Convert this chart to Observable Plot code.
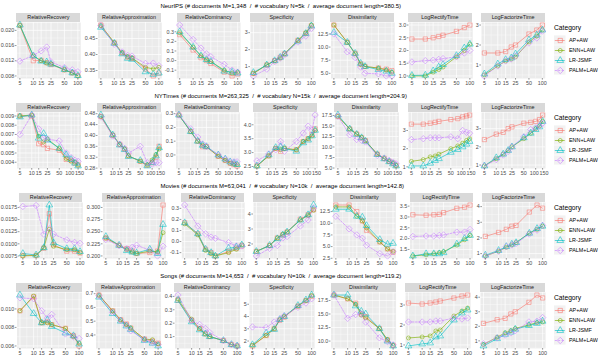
<!DOCTYPE html>
<html><head><meta charset="utf-8">
<script src="https://cdn.jsdelivr.net/npm/d3@7"></script>
<script src="https://cdn.jsdelivr.net/npm/@observablehq/plot@0.6"></script>
<style>
body{margin:0;background:#fff;}
#root{position:relative;width:598px;height:360px;overflow:hidden;background:#fff;font-family:"Liberation Sans",Arial,sans-serif;}
.strip{position:absolute;background:#D9D9D9;color:#1A1A1A;font-size:5.4px;text-align:center;white-space:nowrap;overflow:hidden;}
.title{position:absolute;font-size:6px;color:#000;white-space:pre;transform:translateX(-50%);line-height:8px;}
.ltitle{position:absolute;font-size:6.7px;color:#000;white-space:pre;line-height:8px;}
</style></head><body><div id="root"></div>
<script>
// ---------- data ----------
const categories = ["AP+AW","ENN+LAW","LR-JSMF","PALM+LAW"];
const metrics = ["RelativeRecovery","RelativeApproximation","RelativeDominancy","Specificity","Dissimilarity","LogRectifyTime","LogFactorizeTime"];
const titles = [
  "NeurIPS (# documents M=1,348  /  # vocabulary N=5k  /  average document length=380.5)",
  "NYTimes (# documents M=263,325  /  # vocabulary N=15k  /  average document length=204.9)",
  "Movies (# documents M=63,041  /  # vocabulary N=10k  /  average document length=142.8)",
  "Songs (# documents M=14,653  /  # vocabulary N=10k  /  average document length=119.2)"
];
const ranksStd = [5,10,15,20,25,50,75,100];
const ranksNYT = [5,10,15,20,25,50,75,100,125,150];
const xTicksStd = [5,10,15,25,50,100];
const xTicksNYT = [5,10,15,25,50,100,150];

// NeurIPS (rows: AP+AW, ENN+LAW, LR-JSMF, PALM+LAW)
const neuripsRecovery = [
  [0.0213,0.0120,0.0121,0.0115,0.0110,0.0096,0.0088,0.0081],
  [0.0213,0.0133,0.0120,0.0114,0.0112,0.0096,0.0088,0.0080],
  [0.0214,0.0133,0.0119,0.0117,0.0111,0.0097,0.0088,0.0081],
  [0.0119,0.0134,0.0146,0.0156,0.0117,0.0102,0.0096,0.0091]];
const neuripsApprox = [
  [0.492,0.436,0.405,0.392,0.388,0.355,0.333,0.342],
  [0.490,0.437,0.405,0.393,0.389,0.360,0.355,0.360],
  [0.485,0.435,0.402,0.388,0.385,0.346,0.338,0.342],
  [0.490,0.432,0.408,0.397,0.395,0.372,0.373,0.365]];
const neuripsDominancy = [
  [0.27,0.11,0.03,0.00,-0.03,-0.12,-0.16,-0.14],
  [0.29,0.14,0.05,0.01,-0.01,-0.10,-0.13,-0.12],
  [0.30,0.14,0.05,0.01,-0.01,-0.11,-0.12,-0.13],
  [0.37,0.22,0.13,0.07,0.04,-0.04,-0.10,-0.12]];
const neuripsSpecificity = [
  [0.60,1.10,1.35,1.55,1.75,2.55,2.95,3.40],
  [0.60,1.10,1.35,1.50,1.75,2.55,3.00,3.45],
  [0.65,1.10,1.35,1.55,1.75,2.50,2.95,3.40],
  [0.45,0.85,1.30,1.50,1.70,2.45,2.80,3.25]];
const neuripsDissimilarity = [
  [14.2,10.9,8.8,6.8,6.3,6.0,5.8,5.5],
  [14.2,10.9,8.7,6.7,6.3,6.0,5.6,5.2],
  [12.8,10.9,8.8,6.9,6.3,5.7,5.4,5.0],
  [12.5,9.1,8.0,6.2,5.0,4.9,4.5,4.5]];
const neuripsRectify = [
  [2.45,2.45,2.50,2.55,2.60,2.75,2.90,3.00],
  [1.00,1.00,1.15,1.25,1.35,1.75,2.00,2.25],
  [1.02,1.03,1.20,1.35,1.45,1.80,2.10,2.25],
  [1.55,1.60,1.62,1.65,1.68,1.75,1.90,2.00]];
const neuripsFactorize = [
  [1.60,1.60,1.67,1.90,2.00,2.55,2.75,3.00],
  [0.50,0.95,1.20,1.30,1.40,2.15,2.45,2.75],
  [0.55,1.05,1.27,1.35,1.55,2.25,2.50,2.75],
  [0.45,0.95,1.20,1.30,1.45,2.10,2.35,2.70]];
const neuripsYTicks = [[0.008,0.012,0.016,0.020],[0.35,0.40,0.45,0.50],[-0.1,0,0.1,0.2,0.3],[1,2,3],[5,7.5,10,12.5],[1,1.5,2,2.5,3],[1,2,3]];

// NYTimes
const nytRecovery = [
  [0.0090,0.0090,0.0060,0.0059,0.0055,0.0053,0.0043,0.0042,0.0039,0.0037],
  [0.0090,0.0091,0.0068,0.0062,0.0065,0.0055,0.0044,0.0041,0.0040,0.0037],
  [0.0089,0.0091,0.0066,0.0071,0.0064,0.0055,0.0048,0.0043,0.0039,0.0036],
  [0.0070,0.0091,0.0076,0.0066,0.0065,0.0063,0.0050,0.0045,0.0042,0.0041]];
const nytApprox = [
  [0.470,0.400,0.367,0.350,0.325,0.305,0.290,0.300,0.320,0.360],
  [0.470,0.402,0.367,0.350,0.325,0.305,0.292,0.310,0.330,0.350],
  [0.475,0.402,0.365,0.348,0.323,0.308,0.288,0.300,0.325,0.355],
  [0.468,0.398,0.368,0.352,0.335,0.360,0.300,0.295,0.300,0.300]];
const nytDominancy = [
  [0.29,0.17,0.10,0.06,0.06,-0.01,-0.04,-0.06,-0.07,-0.08],
  [0.29,0.17,0.10,0.07,0.06,-0.01,-0.04,-0.06,-0.065,-0.07],
  [0.29,0.17,0.10,0.07,0.06,0.00,-0.03,-0.05,-0.06,-0.07],
  [0.29,0.19,0.13,0.08,0.06,0.00,-0.03,-0.05,-0.05,-0.05]];
const nytSpecificity = [
  [2.52,2.88,3.15,3.05,3.15,3.10,3.40,3.50,3.65,3.85],
  [2.52,2.88,3.15,3.10,3.15,3.10,3.40,3.50,3.60,3.80],
  [2.52,2.92,3.18,3.20,3.15,3.05,3.35,3.45,3.60,3.80],
  [2.70,2.95,3.10,3.40,3.05,3.40,3.70,3.95,3.80,4.35]];
const nytDissimilarity = [
  [17.3,14.3,13.1,12.2,11.5,8.3,7.3,6.6,6.2,5.6],
  [17.3,14.3,13.1,12.3,11.5,8.3,7.2,6.5,6.1,5.6],
  [17.6,14.3,13.0,12.2,11.4,8.2,7.2,6.5,6.0,5.5],
  [17.3,12.9,11.8,11.6,11.2,8.0,7.3,6.8,6.3,6.0]];
const nytRectify = [
  [3.35,3.35,3.40,3.45,3.50,3.60,3.65,3.75,3.80,3.85],
  [1.30,1.40,1.55,1.60,1.70,2.00,2.15,2.30,2.45,2.55],
  [1.05,1.05,1.20,1.35,1.45,1.80,1.95,2.10,2.25,2.40],
  [2.50,2.55,2.60,2.60,2.60,2.65,2.55,3.00,2.90,2.85]];
const nytFactorize = [
  [2.40,2.70,2.80,3.00,3.10,3.30,3.35,3.40,3.50,3.75],
  [0.95,1.35,1.60,1.80,2.00,2.45,2.75,3.00,3.15,3.40],
  [0.95,1.40,1.60,1.80,2.00,2.50,2.75,2.95,3.10,3.40],
  [0.95,1.30,1.55,1.75,2.00,2.55,2.95,3.05,3.15,3.30]];
const nytYTicks = [[0.004,0.005,0.006,0.007,0.008,0.009],[0.28,0.32,0.36,0.40,0.44,0.48],[0,0.1,0.2,0.3],[2.5,3,3.5,4],[5,7.5,10,12.5,15,17.5],[1,2,3,4],[1,2,3]];

// Movies
const moviesRecovery = [
  [0.0076,0.0076,0.0091,0.0162,0.0098,0.0085,0.0085,0.0081],
  [0.0075,0.0076,0.0092,0.0130,0.0095,0.0088,0.0088,0.0082],
  [0.0080,0.0077,0.0092,0.0180,0.0102,0.0090,0.0090,0.0084],
  [0.0177,0.0179,0.0120,0.0131,0.0120,0.0108,0.0103,0.0101]];
const moviesApprox = [
  [0.237,0.222,0.215,0.210,0.205,0.207,0.210,0.305],
  [0.237,0.222,0.213,0.208,0.205,0.210,0.208,0.248],
  [0.240,0.222,0.211,0.208,0.206,0.214,0.205,0.265],
  [0.234,0.221,0.215,0.218,0.222,0.212,0.200,0.220]];
const moviesDominancy = [
  [0.17,0.07,-0.07,-0.10,-0.13,-0.09,-0.06,-0.04],
  [0.16,0.06,-0.08,-0.11,-0.13,-0.10,-0.07,-0.03],
  [0.17,0.07,-0.07,-0.10,-0.13,-0.06,-0.05,-0.03],
  [0.33,0.14,0.07,0.04,0.03,-0.01,-0.04,-0.04]];
const moviesSpecificity = [
  [1.50,1.90,2.40,2.60,2.80,3.65,3.95,4.30],
  [1.50,1.90,2.40,2.65,2.80,3.60,3.90,4.25],
  [1.50,1.90,2.35,2.60,2.80,3.60,3.95,4.60],
  [1.20,1.70,1.90,2.40,2.50,3.20,3.60,4.40]];
const moviesDissimilarity = [
  [13.9,13.9,12.5,10.5,8.5,6.0,4.5,3.8],
  [13.5,13.5,11.5,10.5,9.0,6.0,4.5,4.0],
  [13.0,13.0,11.5,11.3,9.5,6.5,5.5,5.7],
  [11.5,8.8,7.5,6.8,5.3,3.5,3.0,3.9]];
const moviesRectify = [
  [3.10,3.08,3.10,3.12,3.20,3.40,3.45,3.55],
  [1.20,1.25,1.30,1.35,1.40,1.70,1.95,2.15],
  [1.20,1.30,1.30,1.30,1.35,1.75,2.00,2.15],
  [2.10,2.12,2.12,2.15,2.17,2.30,2.30,2.42]];
const moviesFactorize = [
  [2.10,2.35,2.55,2.75,2.80,3.65,4.10,3.90],
  [0.85,1.15,1.40,1.55,1.70,2.30,2.55,2.75],
  [0.90,1.20,1.45,1.60,1.70,2.30,2.60,2.75],
  [0.85,1.15,1.45,1.55,1.65,2.25,2.50,2.80]];
const moviesYTicks = [[0.0075,0.0100,0.0125,0.0150,0.0175],[0.200,0.225,0.250,0.275,0.300],[-0.1,0,0.1,0.2,0.3],[2,3,4],[2.5,5,7.5,10,12.5],[1.5,2,2.5,3,3.5],[1,2,3,4]];

// Songs
const songsRecovery = [
  [0.0098,0.0113,0.0085,0.0086,0.0083,0.0079,0.0071,0.0060],
  [0.0098,0.0114,0.0085,0.0085,0.0083,0.0079,0.0070,0.0063],
  [0.0115,0.0095,0.0085,0.0088,0.0081,0.0074,0.0071,0.0062],
  [0.0112,0.0111,0.0098,0.0090,0.0094,0.0073,0.0070,0.0068]];
const songsApprox = [
  [0.690,0.575,0.510,0.480,0.450,0.370,0.355,0.340],
  [0.690,0.575,0.510,0.475,0.450,0.370,0.365,0.335],
  [0.675,0.555,0.500,0.465,0.440,0.360,0.340,0.320],
  [0.685,0.565,0.505,0.470,0.430,0.365,0.345,0.330]];
const songsDominancy = [
  [0.37,0.22,0.16,0.12,0.10,0.07,0.04,0.03],
  [0.38,0.23,0.16,0.12,0.10,0.07,0.04,0.03],
  [0.37,0.21,0.15,0.12,0.10,0.07,0.04,0.03],
  [0.41,0.22,0.19,0.16,0.13,0.07,0.04,0.03]];
const songsSpecificity = [
  [1.60,2.45,3.00,3.70,3.95,4.85,5.30,5.65],
  [1.65,2.45,3.00,3.75,4.00,4.85,5.30,5.70],
  [1.70,2.65,2.95,3.75,4.00,4.90,5.35,5.75],
  [3.15,3.10,3.55,3.80,4.05,4.75,5.10,5.45]];
const songsDissimilarity = [
  [18.5,17.8,17.0,15.0,14.5,12.3,10.2,9.2],
  [18.5,17.8,16.8,14.8,14.3,12.3,10.3,9.2],
  [18.5,18.5,16.5,15.5,15.0,12.3,10.0,9.1],
  [18.5,14.2,14.9,15.0,13.5,10.6,9.9,9.3]];
const songsRectify = [
  [3.10,3.05,3.10,3.15,3.20,3.35,3.45,3.50],
  [1.35,1.40,1.45,1.70,1.75,2.45,2.70,2.85],
  [0.95,1.05,1.10,1.40,1.45,2.25,2.60,2.75],
  [2.15,2.15,2.15,2.20,2.20,2.35,2.30,2.35]];
const songsFactorize = [
  [2.20,2.45,2.55,2.85,3.00,3.65,4.15,3.95],
  [0.75,1.25,1.55,1.70,1.85,2.10,2.25,2.30],
  [0.65,1.15,1.45,1.60,1.80,2.05,2.20,2.35],
  [0.80,1.20,1.40,1.55,1.70,2.30,2.35,2.60]];
const songsYTicks = [[0.006,0.008,0.010],[0.3,0.4,0.5,0.6,0.7],[0.1,0.2,0.3,0.4],[2,3,4,5],[10,12.5,15,17.5],[1,2,3],[1,2,3,4]];

// ---------- style / layout ----------
const colors = ["#F8766D","#7CAE00","#00BFC4","#C77CFF"];
const symbols = ["square","circle","triangle","diamond2"];
const radii = [2.4,2.0,2.5,2.9];
const dashes = [undefined,undefined,undefined,"2,1.4"];
const FONT = '"Liberation Sans", Arial, sans-serif';
const rowH = 90, stripTop = 13, stripH = 8.5, panelTop = 21.5, panelH = 56, panelsRight = 545;

const rows = [
  {title: titles[0], xs: ranksStd, xTicks: xTicksStd, series: [neuripsRecovery,neuripsApprox,neuripsDominancy,neuripsSpecificity,neuripsDissimilarity,neuripsRectify,neuripsFactorize], yTicks: neuripsYTicks},
  {title: titles[1], xs: ranksNYT, xTicks: xTicksNYT, series: [nytRecovery,nytApprox,nytDominancy,nytSpecificity,nytDissimilarity,nytRectify,nytFactorize], yTicks: nytYTicks},
  {title: titles[2], xs: ranksStd, xTicks: xTicksStd, series: [moviesRecovery,moviesApprox,moviesDominancy,moviesSpecificity,moviesDissimilarity,moviesRectify,moviesFactorize], yTicks: moviesYTicks},
  {title: titles[3], xs: ranksStd, xTicks: xTicksStd, series: [songsRecovery,songsApprox,songsDominancy,songsSpecificity,songsDissimilarity,songsRectify,songsFactorize], yTicks: songsYTicks}
];

const root = document.getElementById("root");
const cv = document.createElement("canvas").getContext("2d");
cv.font = `5.4px ${FONT}`;
const tw = s => cv.measureText(s).width;

function decimals(ticks) {
  let m = 0;
  for (const t of ticks) {
    let d = 0;
    while (d < 8 && Math.abs(t * 10 ** d - Math.round(t * 10 ** d)) > 1e-7) d++;
    m = Math.max(m, d);
  }
  return m;
}

function add(el, left, top) { el.style.position = "absolute"; el.style.left = left + "px"; el.style.top = top + "px"; root.appendChild(el); return el; }

const axisStyle = {fill: "#4D4D4D", stroke: "#333333", strokeWidth: 0.5, label: null};

rows.forEach((row, r) => {
  const rowTop = r * rowH;
  const lx0 = Math.log(row.xs[0]), lx1 = Math.log(row.xs[row.xs.length - 1]), lr = lx1 - lx0;
  const xDom = [Math.exp(lx0 - 0.05 * lr), Math.exp(lx1 + 0.05 * lr)];
  const xMinor = d3.pairs(row.xTicks).map(([a, b]) => Math.sqrt(a * b));
  const crowded = row.xTicks.includes(150); // 100 and 150 sit very close together

  const info = row.series.map((ser, m) => {
    const data = [];
    ser.forEach((vals, ci) => vals.forEach((v, i) => data.push({cat: categories[ci], ci, x: row.xs[i], y: v})));
    const [y0, y1] = d3.extent(data, d => d.y);
    const yDom = [y0 - 0.05 * (y1 - y0), y1 + 0.05 * (y1 - y0)];
    const all = row.yTicks[m];
    const yT = all.filter(t => t >= yDom[0] && t <= yDom[1]);
    const dec = decimals(all);
    const fmt = d => d.toFixed(dec);
    const step = all[1] - all[0];
    const ext = [all[0] - step, ...all, all[all.length - 1] + step];
    const yMinor = d3.pairs(ext).map(([a, b]) => (a + b) / 2).filter(t => t >= yDom[0] && t <= yDom[1]);
    const ml = d3.max(yT, t => tw(fmt(t))) + 3;
    return {data, yDom, yT, fmt, yMinor, ml};
  });

  const left0 = info[0].ml;
  const gaps = d3.sum(info.slice(1), d => d.ml + 3.4);
  const P = (panelsRight - left0 - gaps) / 7;
  let left = left0;
  info.forEach((p, m) => {
    if (m > 0) left += P + p.ml + 3.4;
    const strip = document.createElement("div");
    strip.className = "strip";
    strip.style.width = P + "px"; strip.style.height = stripH + "px"; strip.style.lineHeight = stripH + "px";
    strip.textContent = metrics[m];
    add(strip, left, rowTop + stripTop);

    const marks = [
      Plot.frame({fill: "#EBEBEB", stroke: "none"}),
      Plot.ruleX(xMinor, {stroke: "#fff", strokeWidth: 0.35}),
      Plot.ruleY(p.yMinor, {stroke: "#fff", strokeWidth: 0.35}),
      Plot.ruleX(row.xTicks, {stroke: "#fff", strokeWidth: 0.7}),
      Plot.ruleY(p.yT, {stroke: "#fff", strokeWidth: 0.7})
    ];
    categories.forEach((c, ci) => {
      marks.push(Plot.line(p.data.filter(d => d.ci === ci), {x: "x", y: "y", stroke: colors[ci], strokeWidth: 0.75, strokeOpacity: 0.85, strokeDasharray: dashes[ci]}));
    });
    categories.forEach((c, ci) => {
      marks.push(Plot.dot(p.data.filter(d => d.ci === ci), {x: "x", y: "y", stroke: colors[ci], fill: "none", symbol: symbols[ci], r: radii[ci], strokeWidth: 0.6, strokeOpacity: 0.9}));
    });
    marks.push(Plot.axisY({ticks: p.yT, tickSize: 1.7, tickPadding: 1.1, tickFormat: p.fmt, ...axisStyle}));
    if (!crowded) {
      marks.push(Plot.axisX({ticks: row.xTicks, tickSize: 1.7, tickPadding: 0.8, tickFormat: d => String(d), ...axisStyle}));
    } else {
      marks.push(Plot.axisX({ticks: row.xTicks, tickSize: 1.7, tickPadding: 0.8, tickFormat: d => (d === 100 || d === 150) ? "" : String(d), ...axisStyle}));
      marks.push(Plot.axisX({ticks: [100], tickSize: 0, tickPadding: 2.5, tickFormat: d => String(d), dx: -1.4, ...axisStyle}));
      marks.push(Plot.axisX({ticks: [150], tickSize: 0, tickPadding: 2.5, tickFormat: d => String(d), dx: 1.4, ...axisStyle}));
    }

    const svg = Plot.plot({
      width: p.ml + P, height: panelH + 9,
      marginLeft: p.ml, marginRight: 0, marginTop: 0, marginBottom: 9,
      style: {background: "transparent", fontFamily: FONT, fontSize: "5.4px", overflow: "visible"},
      x: {type: "log", domain: xDom},
      y: {domain: p.yDom},
      marks
    });
    add(svg, left - p.ml, rowTop + panelTop);
  });

  const t = document.createElement("div");
  t.className = "title"; t.textContent = row.title;
  add(t, (left0 + panelsRight) / 2, rowTop + 1.5);

  const lt = document.createElement("div");
  lt.className = "ltitle"; lt.textContent = "Category";
  add(lt, 554, rowTop + 24);

  const lmarks = [
    Plot.barX(categories, {x1: () => 0, x2: () => 11.5, y: d => d, fill: "#F2F2F2", insetTop: 0.4, insetBottom: 0.4})
  ];
  categories.forEach((c, ci) => {
    lmarks.push(Plot.ruleY([c], {y: d => d, x1: () => 0.8, x2: () => 10.7, stroke: colors[ci], strokeWidth: 0.75, strokeOpacity: 0.85, strokeDasharray: dashes[ci]}));
    lmarks.push(Plot.dot([c], {x: () => 5.75, y: d => d, stroke: colors[ci], fill: "none", symbol: symbols[ci], r: radii[ci], strokeWidth: 0.6}));
  });
  lmarks.push(Plot.text(categories, {x: () => 14.5, y: d => d, text: d => d, textAnchor: "start", fill: "#000"}));
  const leg = Plot.plot({
    width: 46, height: 42, margin: 0,
    style: {background: "transparent", fontFamily: FONT, fontSize: "5.4px", overflow: "visible"},
    x: {domain: [0, 46], range: [0, 46], axis: null},
    y: {type: "band", domain: categories, range: [0, 42], padding: 0, axis: null},
    marks: lmarks
  });
  add(leg, 554, rowTop + 34);
});
</script></body></html>
